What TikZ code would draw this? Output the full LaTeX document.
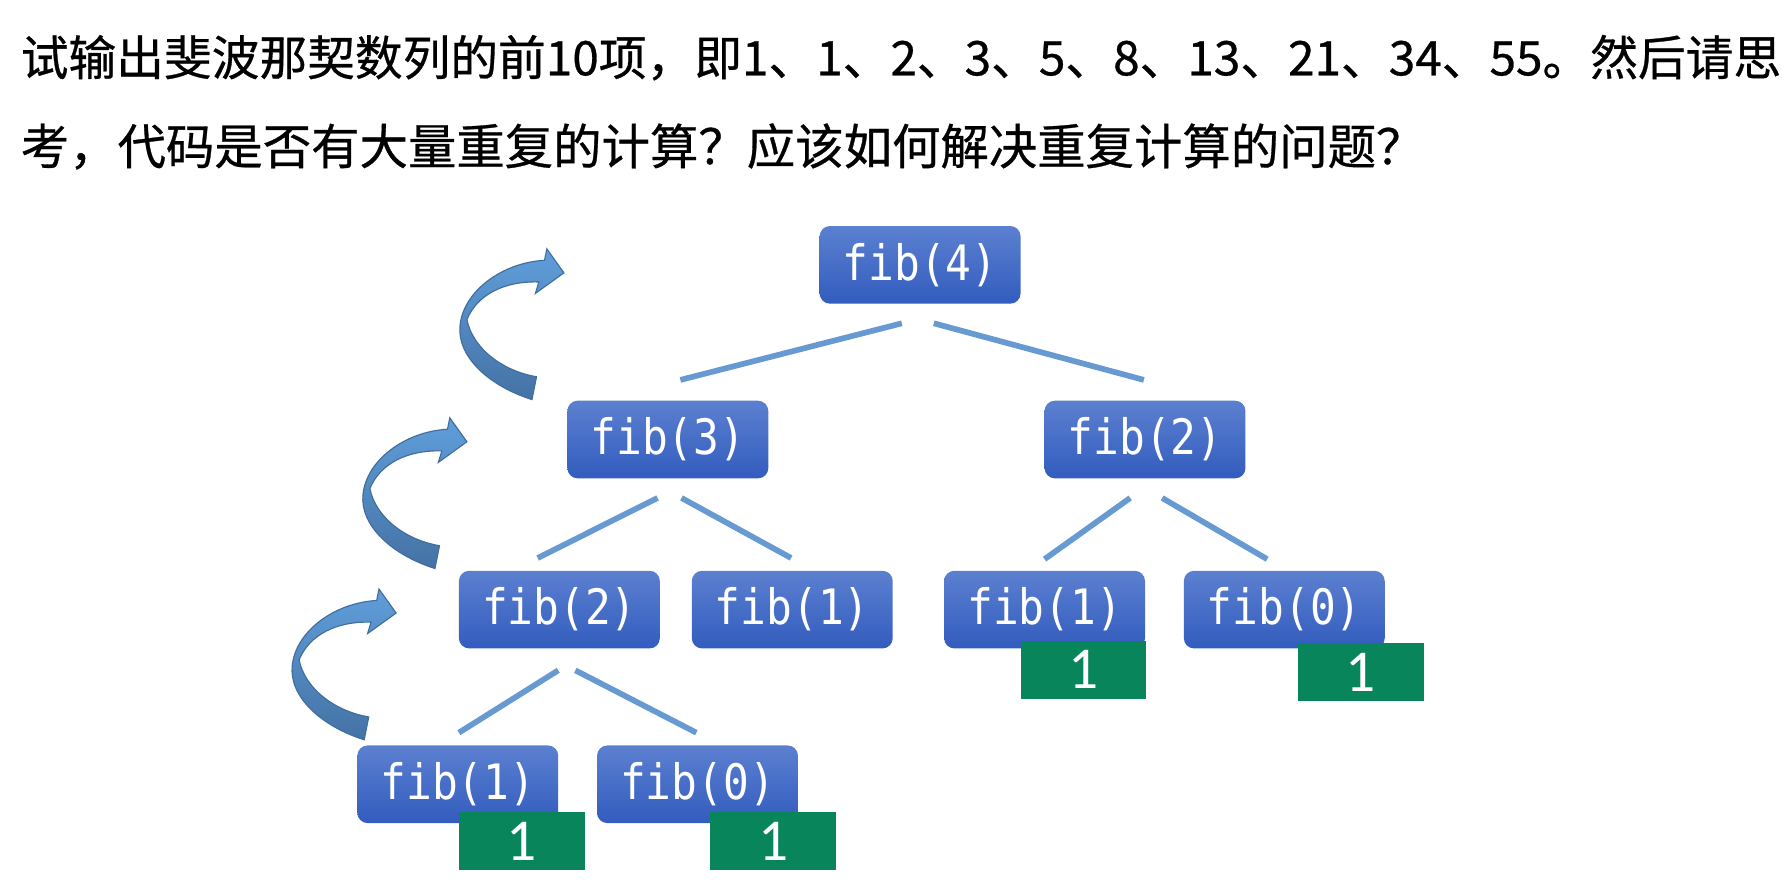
\documentclass[tikz,border=0pt]{standalone}
\usepackage{fontspec}
\setmainfont{Noto Sans CJK SC}
\newfontfamily\cjk[FakeBold=0.6]{Noto Sans CJK SC}
\newfontfamily\monof{DejaVu Sans Mono}
\newfontfamily\numf{Carlito}
\usetikzlibrary{calc}
\definecolor{boxtop}{RGB}{92,128,208}
\definecolor{boxbot}{RGB}{50,92,190}
\definecolor{edgecol}{RGB}{104,154,210}
\definecolor{greenbox}{RGB}{8,133,90}
\definecolor{arrtop}{RGB}{96,158,218}
\definecolor{arrbot}{RGB}{68,114,165}
\definecolor{arrline}{RGB}{65,110,156}
\newcommand{\fibtxt}[1]{\scalebox{1}[1.14]{#1}}
\tikzset{
  fibbox/.style={rounded corners=9pt, top color=boxtop, bottom color=boxbot, draw=none,
    minimum width=176pt, minimum height=68pt, inner sep=0pt, text=white,
    font=\monof\fontsize{37.5}{40}\selectfont},
  valbox/.style={fill=greenbox, draw=none, minimum width=110pt, minimum height=51pt,
    inner sep=0pt, text=white, font=\numf\fontsize{52}{56}\selectfont, anchor=north west},
  edge/.style={draw=edgecol, line width=5pt},
  curvarr/.style={top color=arrtop, bottom color=arrbot, draw=arrline, line width=1pt},
  headline/.style={anchor=base west, inner sep=0pt, font=\cjk\fontsize{42.4}{46}\selectfont}
}
\begin{document}
\begin{tikzpicture}[x=1pt,y=-1pt]
\useasboundingbox (0,0) rectangle (1568,777);
\fill[white] (0,0) rectangle (1568,777);
% heading
\node[headline] (t1) at (18,66) {\resizebox{1542pt}{!}{试输出斐波那契数列的前10项，即1、1、2、3、5、8、13、21、34、55。然后请思}};
\node[headline] (t2) at (18,144) {考，代码是否有大量重复的计算？应该如何解决重复计算的问题？};
% tree nodes
\node[fibbox] (f4)  at (806,232) {\fibtxt{fib(4)}};
\node[fibbox] (f3)  at (585,385) {\fibtxt{fib(3)}};
\node[fibbox] (f2r) at (1003,385) {\fibtxt{fib(2)}};
\node[fibbox] (f2l) at (490,534) {\fibtxt{fib(2)}};
\node[fibbox] (f1m) at (694,534) {\fibtxt{fib(1)}};
\node[fibbox] (f1r) at (915,534) {\fibtxt{fib(1)}};
\node[fibbox] (f0r) at (1125,534) {\fibtxt{fib(0)}};
\node[fibbox] (f1b) at (401,687) {\fibtxt{fib(1)}};
\node[fibbox] (f0b) at (611,687) {\fibtxt{fib(0)}};
% value boxes
\node[valbox] (v1r) at (894,561) {1};
\node[valbox] (v0r) at (1137,563) {1};
\node[valbox] (v1b) at (402,711) {1};
\node[valbox] (v0b) at (622,711) {1};
% edges
\draw[edge] ($(f4.south)+(-16,17)$) -- ($(f3.north)+(11,-18)$);
\draw[edge] ($(f4.south)+(12,17)$) -- ($(f2r.north)+(-1,-18)$);
\draw[edge] ($(f3.south)+(-9,17)$) -- ($(f2l.north)+(-19,-11)$);
\draw[edge] ($(f3.south)+(12,17)$) -- ($(f1m.north)+(-1,-11)$);
\draw[edge] ($(f2r.south)+(-13,17)$) -- ($(f1r.north)+(0,-10)$);
\draw[edge] ($(f2r.south)+(15,17)$) -- ($(f0r.north)+(-15,-10)$);
\draw[edge] ($(f2l.south)+(-1,19)$) -- ($(f1b.north)+(1,-11)$);
\draw[edge] ($(f2l.south)+(14,19)$) -- ($(f0b.north)+(-1,-11)$);
% curved arrows
\foreach \dx/\dy in {0/0, -85/148, -147/298}{
  \begin{scope}[shift={(\dx,\dy)}]
    \path[curvarr] (466,350) .. controls (428,338) and (400,312) .. (403,285)
      .. controls (406,255) and (440,230) .. (477,228) -- (479,218) -- (494,239)
      -- (469,257) -- (472,247) .. controls (442,246) and (418,258) .. (409,280)
      .. controls (414,305) and (440,325) .. (470,330) -- cycle;
  \end{scope}
}
\end{tikzpicture}
\end{document}
